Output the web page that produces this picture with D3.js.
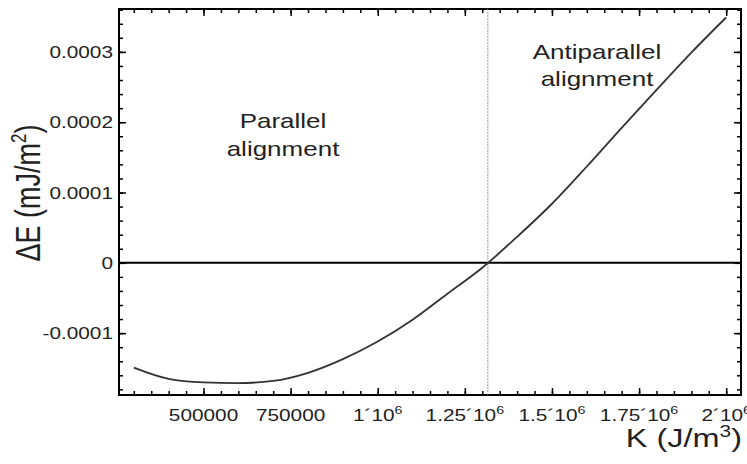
<!DOCTYPE html>
<html>
<head>
<meta charset="utf-8">
<script src="https://cdn.jsdelivr.net/npm/d3@7"></script>
<style>
  body { margin: 0; background: #fff; }
  text { font-family: "Liberation Sans", Arial, sans-serif; fill: #222; }
</style>
</head>
<body>
<div id="the_chart"></div>
<script>
// values
var kValues = [300000, 400000, 500000, 600000, 700000, 800000, 900000, 1000000, 1100000,
    1200000, 1300000, 1400000, 1500000, 1600000, 1700000, 1800000, 1900000, 2000000];
var dEValues = [-0.000149, -0.000165, -0.000170, -0.000171, -0.000168, -0.0001565, -0.000137, -0.000112, -0.000081,
    -0.000044, -0.000007, 0.000037, 0.000084, 0.000137, 0.000192, 0.000246, 0.000299, 0.000349];
var crossingK = 1316000;

var xTickValues = [500000, 750000, 1000000, 1250000, 1500000, 1750000, 2000000];
var xTickLabels = ["500000", "750000", "1´10", "1.25´10", "1.5´10", "1.75´10", "2´10"];
var xTickExp = ["", "", "6", "6", "6", "6", "6"];
var yTickValues = [0.0003, 0.0002, 0.0001, 0, -0.0001];
var yTickLabels = ["0.0003", "0.0002", "0.0001", "0", "-0.0001"];

gen_vis();

function gen_vis() {
    var w = 747;
    var h = 464;
    var fl = 119, fr = 741, ft = 9, fb = 395; // frame edges
    var sx = 1.3; // the picture is stretched sideways

    var svg = d3.select("#the_chart")
        .append("svg")
        .attr("width", w)
        .attr("height", h);

    var x = d3.scaleLinear().domain([257500, 2042500]).range([fl, fr]);
    var y = d3.scaleLinear().domain([-0.000188, 0.000361]).range([fb, ft]);

    var xMinor = d3.range(300000, 2042500, 50000);
    var yMinor = d3.range(-0.00018, 0.000361, 0.00002);

    function tickAxis(axis, major, minor, tr) {
        var g = svg.append("g").attr("transform", tr);
        g.call(axis.tickValues(minor).tickSize(-4).tickFormat(""));
        var g2 = svg.append("g").attr("transform", tr);
        g2.call(axis.tickValues(major).tickSize(-7).tickFormat(""));
        [g, g2].forEach(function (gg) {
            gg.select(".domain").remove();
            gg.selectAll("line").attr("stroke", "#000").attr("stroke-width", 1.5);
        });
    }

    tickAxis(d3.axisBottom(x), xTickValues, xMinor, "translate(0," + fb + ")");
    tickAxis(d3.axisTop(x), xTickValues, xMinor, "translate(0," + ft + ")");
    tickAxis(d3.axisLeft(y), yTickValues, yMinor, "translate(" + fl + ",0)");
    tickAxis(d3.axisRight(y), yTickValues, yMinor, "translate(" + fr + ",0)");

    // frame
    svg.append("rect")
        .attr("x", fl).attr("y", ft)
        .attr("width", fr - fl).attr("height", fb - ft)
        .attr("fill", "none").attr("stroke", "#000").attr("stroke-width", 2);

    // zero line
    svg.append("line")
        .attr("x1", fl).attr("x2", fr)
        .attr("y1", y(0)).attr("y2", y(0))
        .attr("stroke", "#000").attr("stroke-width", 2);

    // crossing line
    svg.append("line")
        .attr("x1", x(crossingK)).attr("x2", x(crossingK))
        .attr("y1", ft).attr("y2", fb)
        .attr("stroke", "#999").attr("stroke-width", 1)
        .attr("stroke-dasharray", "2,1");

    // curve
    var pts = kValues.map(function (k, i) { return [k, dEValues[i]]; });
    svg.append("path")
        .datum(pts)
        .attr("fill", "none")
        .attr("stroke", "#333")
        .attr("stroke-width", 1.8)
        .attr("d", d3.line()
            .curve(d3.curveMonotoneX)
            .x(function (d) { return x(d[0]); })
            .y(function (d) { return y(d[1]); }));

    // stretched text helper
    function label(px, py, anchor, size, rot) {
        var g = svg.append("g")
            .attr("transform", "translate(" + px + "," + py + ") scale(" + sx + ",1)" + (rot ? " rotate(" + rot + ")" : ""));
        return g.append("text")
            .attr("text-anchor", anchor)
            .attr("font-size", size);
    }

    // y tick labels
    yTickValues.forEach(function (v, i) {
        label(113, y(v) + 6, "end", 16).text(yTickLabels[i]);
    });

    // x tick labels
    xTickValues.forEach(function (v, i) {
        var t = label(x(v), 421, "middle", 16);
        t.append("tspan").text(xTickLabels[i]);
        if (xTickExp[i]) {
            t.append("tspan").attr("dy", -7).attr("font-size", 11).text(xTickExp[i]);
        }
    });

    // axis titles
    var xt = label(742, 447, "end", 25);
    xt.append("tspan").text("K (J/m");
    xt.append("tspan").attr("dy", -10).attr("font-size", 16).text("3");
    xt.append("tspan").attr("dy", 10).text(")");

    var yt = label(40, 193, "middle", 27, -90);
    yt.append("tspan").text("ΔE (mJ/m");
    yt.append("tspan").attr("dy", -11).attr("font-size", 17).text("2");
    yt.append("tspan").attr("dy", 11).text(")");

    // annotations
    label(283, 128, "middle", 20).text("Parallel");
    label(283, 156, "middle", 20).text("alignment");
    label(597, 59, "middle", 20).text("Antiparallel");
    label(597, 86, "middle", 20).text("alignment");
}
</script>
</body>
</html>
